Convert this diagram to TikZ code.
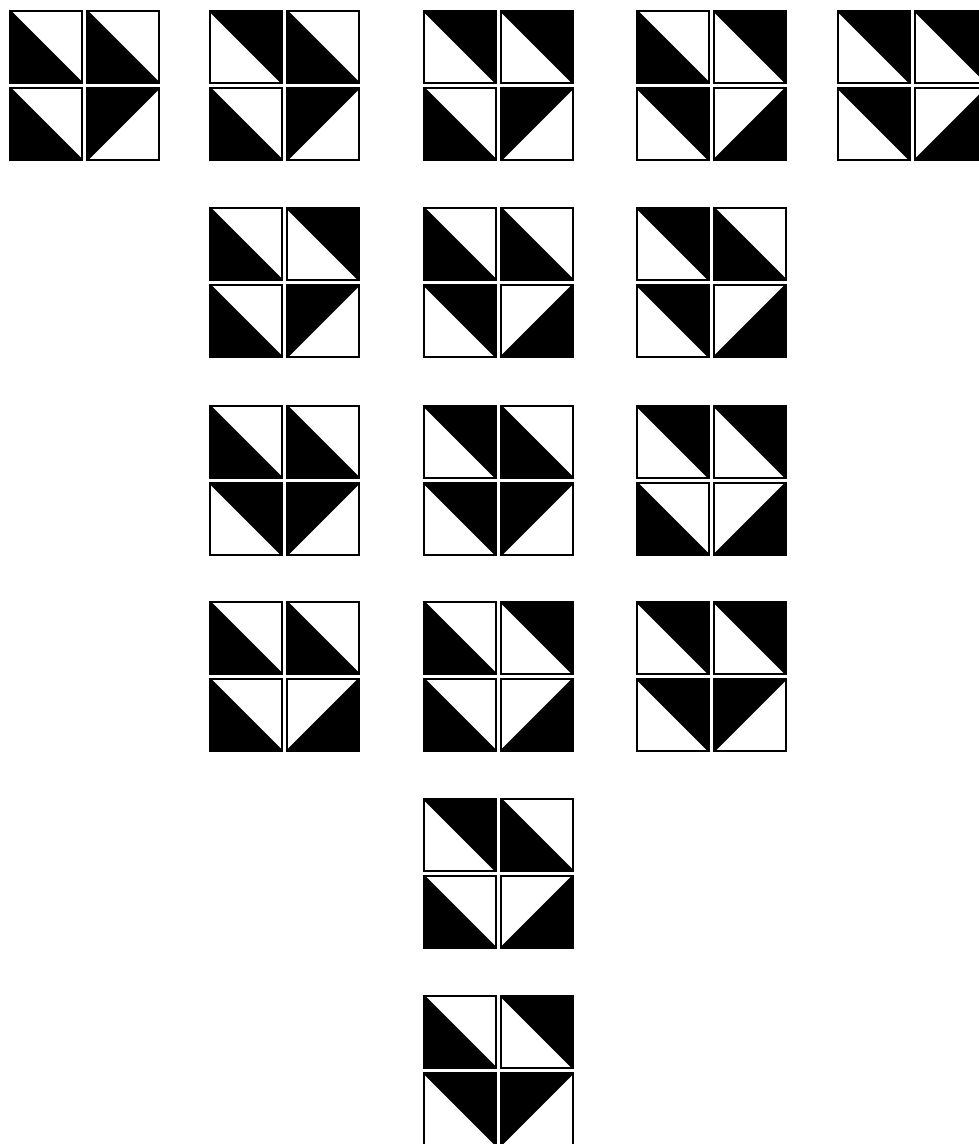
\documentclass[tikz,border=0pt]{standalone}
\usepackage{xcolor}
\usepackage{tikz}

\tikzset{
  cellframe/.style={draw=black, line width=2pt, line join=miter},
  diagline/.style={draw=black, line width=2pt},
  blackhalf/.style={fill=black},
}

% one square cell: x, y, diagonal (0 = \, 1 = /), black on left side (1) or right side (0)
\newcommand{\dcell}[4]{%
  \begin{scope}[shift={(#1,#2)}]
    \ifnum#3=0
      \ifnum#4=1
        \fill[blackhalf] (1,1) -- (1,73) -- (73,73) -- cycle;
      \else
        \fill[blackhalf] (1,1) -- (73,1) -- (73,73) -- cycle;
      \fi
      \draw[diagline] (1,1) -- (73,73);
    \else
      \ifnum#4=1
        \fill[blackhalf] (1,73) -- (1,1) -- (73,1) -- cycle;
      \else
        \fill[blackhalf] (1,73) -- (73,73) -- (73,1) -- cycle;
      \fi
      \draw[diagline] (1,73) -- (73,1);
    \fi
    \draw[cellframe] (1,1) rectangle (73,73);
  \end{scope}}

\begin{document}
\begin{tikzpicture}[x=1pt, y=-1pt]
    \useasboundingbox (0,0) rectangle (978,1144);

    % Tiles: left x / top y / four cells
    \foreach \tx/\ty/\a/\b/\c/\d in {
        9/10/1/1/1/1, 209/10/0/1/1/1, 423/10/0/0/1/1, 636/10/1/0/0/0, 837/10/0/0/0/0,
        209/207/1/0/1/1, 423/207/1/1/0/0, 636/207/0/1/0/0,
        209/405/1/1/0/1, 423/405/0/1/0/1, 636/405/0/0/1/0,
        209/601/1/1/1/0, 423/601/1/0/1/0, 636/601/0/0/0/1,
        423/798/0/1/1/0,
        423/995/1/0/0/1} {
        \dcell{\tx}{\ty}{0}{\a}
        \dcell{\tx+77}{\ty}{0}{\b}
        \dcell{\tx}{\ty+77}{0}{\c}
        \dcell{\tx+77}{\ty+77}{1}{\d}
    }
\end{tikzpicture}
\end{document}
